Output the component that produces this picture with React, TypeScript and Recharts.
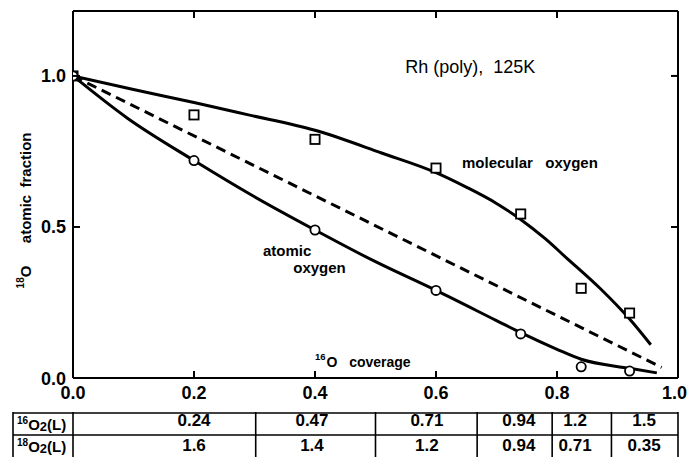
import React from 'react';
import { ComposedChart, Line, Scatter, XAxis, YAxis, Label } from 'recharts';

const FONT = '"Liberation Sans", Arial, Helvetica, sans-serif';

// measured points
const atomicX = [0, 0.2, 0.4, 0.6, 0.74, 0.84, 0.92];
const atomicY = [1.0, 0.72, 0.49, 0.29, 0.146, 0.037, 0.023];
const molecularX = [0, 0.2, 0.4, 0.6, 0.74, 0.84, 0.92];
const molecularY = [1.0, 0.871, 0.79, 0.695, 0.543, 0.297, 0.215];

// drawn curves
const atomicFitX = [0, 0.09, 0.2, 0.3, 0.4, 0.5, 0.6, 0.7, 0.74, 0.8, 0.84, 0.92, 0.965];
const atomicFitY = [1.0, 0.86, 0.72, 0.6, 0.49, 0.385, 0.29, 0.19, 0.15, 0.095, 0.062, 0.032, 0.017];
const molecularFitX = [0, 0.1, 0.2, 0.29, 0.4, 0.51, 0.6, 0.65, 0.7, 0.74, 0.78, 0.816, 0.871, 0.92, 0.955];
const molecularFitY = [1.0, 0.955, 0.912, 0.871, 0.82, 0.745, 0.68, 0.632, 0.578, 0.525, 0.462, 0.397, 0.297, 0.195, 0.11];
const statisticalX = [0, 0.973];
const statisticalY = [1.0, 0.035];

const xTicks = [0, 0.2, 0.4, 0.6, 0.8, 1.0];
const yTicks = [0, 0.5, 1.0];

// exposure table
const tableColX = [0.2, 0.395, 0.585, 0.737, 0.83, 0.944];
const o16Exposure = ['0.24', '0.47', '0.71', '0.94', '1.2', '1.5'];
const o18Exposure = ['1.6', '1.4', '1.2', '0.94', '0.71', '0.35'];
const tableBorders = [0, 0.302, 0.5, 0.668, 0.792, 0.89, 1.0];
const tableTicks = [...tableBorders, ...tableColX];

const annotations = [
  { x: 0.549, y: 1.01, text: 'Rh (poly),\u00A0\u00A0125K', size: 18, weight: 'normal' },
  { x: 0.643, y: 0.695, text: 'molecular\u00A0\u00A0\u00A0oxygen', size: 15, weight: 'bold' },
  { x: 0.314, y: 0.404, text: 'atomic', size: 15, weight: 'bold' },
  { x: 0.364, y: 0.348, text: 'oxygen', size: 15, weight: 'bold' },
  { x: 0.4, y: 0.036, sup: '16', text: 'O\u00A0\u00A0\u00A0coverage', size: 14, weight: 'bold' },
];

const toPoints = (xs: number[], ys: number[]) => xs.map((x, i) => ({ x, y: ys[i] }));

const atomicPts = toPoints(atomicX, atomicY);
const molecularPts = toPoints(molecularX, molecularY);
const atomicFit = toPoints(atomicFitX, atomicFitY);
const molecularFit = toPoints(molecularFitX, molecularFitY);
const statistical = toPoints(statisticalX, statisticalY);

const PLOT_W = 605;
const TICK = 7;

const CircleMark = (p: any) => (
  <circle cx={p.cx} cy={p.cy} r={4.6} fill="#fff" stroke="#000" strokeWidth={1.8} />
);
const SquareMark = (p: any) => (
  <rect x={p.cx - 4.6} y={p.cy - 4.6} width={9.2} height={9.2} fill="#fff" stroke="#000" strokeWidth={1.8} />
);

const AnnotationMark = (p: any) => {
  const a = p.payload;
  return (
    <text x={p.cx} y={p.cy} fontSize={a.size} fontWeight={a.weight} fontFamily={FONT} fill="#000">
      {a.sup ? (
        <>
          <tspan fontSize={a.size * 0.68} dy={-a.size * 0.5}>{a.sup}</tspan>
          <tspan dy={a.size * 0.5} dx={1}>{a.text}</tspan>
        </>
      ) : (
        a.text
      )}
    </text>
  );
};

const tickText = { fill: '#000', fontSize: 18, fontFamily: FONT, fontWeight: 'bold' as const };
const tl = { stroke: '#000', strokeWidth: 2 };

const BottomTick = (p: any) => {
  const { x, y, payload } = p;
  const last = payload.value === 1;
  return (
    <g>
      <line x1={x} x2={x} y1={y - 8} y2={y - 8 - TICK} {...tl} />
      <text x={last ? x + 9 : x} y={y + 13} textAnchor={last ? 'end' : 'middle'} {...tickText}>
        {payload.value.toFixed(1)}
      </text>
    </g>
  );
};

const LeftTick = (p: any) => {
  const { x, y, payload } = p;
  return (
    <g>
      <line x1={x + 7} x2={x + 7 + TICK} y1={y} y2={y} {...tl} />
      <text x={x} y={y + 6.5} textAnchor="end" {...tickText}>
        {payload.value.toFixed(1)}
      </text>
    </g>
  );
};

const TopTick = (p: any) => (
  <line x1={p.x} x2={p.x} y1={p.y} y2={p.y + TICK} {...tl} />
);
const RightTick = (p: any) => (
  <line x1={p.x - TICK} x2={p.x} y1={p.y} y2={p.y} {...tl} />
);

const RowLabel = ({ x, y, iso }: { x: number; y: number; iso: string }) => (
  <text x={x} y={y} fontFamily={FONT} fontWeight="bold" fontSize={15} fill="#000">
    <tspan fontSize={10} dy={-6}>{iso}</tspan>
    <tspan dy={6}>O</tspan>
    <tspan fontSize={13} dy={1}>2</tspan>
    <tspan dy={-1}>(L)</tspan>
  </text>
);

const TableTick = (props: any) => {
  const { x, y, payload } = props;
  const v = payload.value;
  const bi = tableBorders.indexOf(v);
  const ls = { stroke: '#000', strokeWidth: 1.6 };
  if (bi >= 0) {
    return (
      <g>
        <line x1={x} x2={x} y1={y + 1} y2={y + 50} {...ls} />
        {bi === 0 && (
          <g>
            <line x1={x - 60} x2={x - 60} y1={y + 1} y2={y + 50} {...ls} />
            <line x1={x - 60} x2={x + PLOT_W} y1={y + 2} y2={y + 2} {...ls} />
            <line x1={x - 60} x2={x + PLOT_W} y1={y + 24} y2={y + 24} {...ls} />
            <RowLabel x={x - 56} y={y + 19} iso="16" />
            <RowLabel x={x - 56} y={y + 41} iso="18" />
          </g>
        )}
      </g>
    );
  }
  const i = tableColX.indexOf(v);
  const ts = { fontFamily: FONT, fontWeight: 'bold' as const, fontSize: 17, fill: '#000', textAnchor: 'middle' as const };
  return (
    <g>
      <text x={x} y={y + 15} {...ts}>{o16Exposure[i]}</text>
      <text x={x} y={y + 40} {...ts}>{o18Exposure[i]}</text>
    </g>
  );
};

const YLabel = () => (
  <g fontFamily={FONT} fontWeight="bold" fill="#000">
    <text transform="translate(31,160) rotate(-90)" textAnchor="middle" fontSize={15}>fraction</text>
    <text transform="translate(31,219) rotate(-90)" textAnchor="middle" fontSize={15}>atomic</text>
    <text transform="translate(31,277) rotate(-90)" textAnchor="middle" fontSize={15}>
      <tspan fontSize={10} dy={-7}>18</tspan>
      <tspan dy={7}>O</tspan>
    </text>
  </g>
);

const axisLine = { stroke: '#000', strokeWidth: 2 };

export default function App() {
  return (
    <div style={{ position: 'absolute', left: 0, top: 0, width: 688, height: 457, background: '#fff' }}>
      <ComposedChart width={688} height={457} margin={{ top: 10, right: 9, bottom: 0, left: 0 }}>
        <XAxis
          dataKey="x"
          type="number"
          domain={[0, 1]}
          ticks={xTicks}
          interval={0}
          allowDataOverflow
          height={33}
          tickSize={0}
          tickMargin={8}
          axisLine={axisLine}
          tickLine={false}
          tick={BottomTick}
        />
        <XAxis
          xAxisId="table"
          dataKey="x"
          type="number"
          domain={[0, 1]}
          ticks={tableTicks}
          interval={0}
          allowDataOverflow
          height={46}
          tickSize={0}
          tickMargin={0}
          axisLine={false}
          tickLine={false}
          tick={TableTick}
        />
        <XAxis
          xAxisId="top"
          orientation="top"
          dataKey="x"
          type="number"
          domain={[0, 1]}
          ticks={xTicks}
          interval={0}
          allowDataOverflow
          height={1}
          tickSize={0}
          tickMargin={0}
          axisLine={axisLine}
          tickLine={false}
          tick={TopTick}
        />
        <YAxis
          type="number"
          domain={[0, 1.215]}
          ticks={yTicks}
          interval={0}
          allowDataOverflow
          width={73}
          tickSize={0}
          tickMargin={7}
          axisLine={axisLine}
          tickLine={false}
          tick={LeftTick}
        >
          <Label content={YLabel} />
        </YAxis>
        <YAxis
          yAxisId="right"
          orientation="right"
          type="number"
          domain={[0, 1.215]}
          ticks={yTicks}
          interval={0}
          allowDataOverflow
          width={1}
          tickSize={0}
          tickMargin={0}
          axisLine={axisLine}
          tickLine={false}
          tick={RightTick}
        />
        <Line data={statistical} dataKey="y" type="linear" stroke="#000" strokeWidth={3} strokeDasharray="10 6" dot={false} activeDot={false} isAnimationActive={false} />
        <Line data={molecularFit} dataKey="y" type="monotone" stroke="#000" strokeWidth={3} dot={false} activeDot={false} isAnimationActive={false} />
        <Line data={atomicFit} dataKey="y" type="monotone" stroke="#000" strokeWidth={3} dot={false} activeDot={false} isAnimationActive={false} />
        <Scatter data={molecularPts} dataKey="y" shape={SquareMark} isAnimationActive={false} />
        <Scatter data={atomicPts} dataKey="y" shape={CircleMark} isAnimationActive={false} />
        <Scatter data={annotations} dataKey="y" shape={AnnotationMark} isAnimationActive={false} />
      </ComposedChart>
    </div>
  );
}
